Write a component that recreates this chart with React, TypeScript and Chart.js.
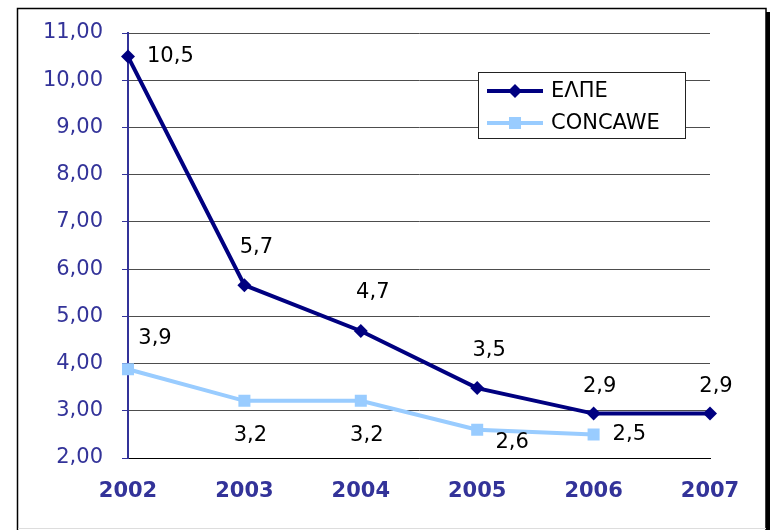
import React, { useEffect, useRef } from 'react';
import { Chart, registerables } from 'chart.js';

Chart.register(...registerables);

const categories = ['2002', '2003', '2004', '2005', '2006', '2007'];
const elpeValues = [10.5, 5.66, 4.69, 3.48, 2.94, 2.94];
const concaweValues: (number | null)[] = [3.88, 3.21, 3.21, 2.6, 2.5, null];
const seriesNames = ['ΕΛΠΕ', 'CONCAWE'];
const yMin = 2;
const yMax = 11;
const yStep = 1;

// label placement keywords (per point)
const elpeLabelPlace = ['right', 'above', 'above', 'above', 'aboveSmall', 'aboveSmall'];
const concaweLabelPlace = ['aboveRight', 'below', 'below', 'belowRight', 'right', 'none'];

const FONT = '"DejaVu Sans", Verdana, sans-serif';
const AXIS_COLOR = '#333399';

const fmt = (v: number, d: number) => v.toFixed(d).replace('.', ',');

const framePlugin = {
  id: 'frame',
  beforeDraw(chart: any) {
    const ctx = chart.ctx;
    ctx.save();
    ctx.fillStyle = '#ffffff';
    ctx.fillRect(0, 0, chart.width, chart.height);
    ctx.strokeStyle = '#000000';
    ctx.lineWidth = 1.5;
    ctx.strokeRect(17.5, 8.5, 748.5, 530);
    ctx.fillStyle = '#000000';
    ctx.fillRect(766, 12, 4, 520);
    ctx.strokeStyle = '#dddddd';
    ctx.lineWidth = 1;
    ctx.beginPath();
    ctx.moveTo(18, 528.5);
    ctx.lineTo(766, 528.5);
    ctx.stroke();
    ctx.restore();
  },
};

const labelsPlugin = {
  id: 'pointLabels',
  afterDatasetsDraw(chart: any) {
    const ctx = chart.ctx;
    const places = [elpeLabelPlace, concaweLabelPlace];
    ctx.save();
    ctx.font = `21px ${FONT}`;
    ctx.fillStyle = '#000000';
    ctx.textBaseline = 'middle';
    chart.data.datasets.forEach((ds: any, di: number) => {
      const meta = chart.getDatasetMeta(di);
      meta.data.forEach((pt: any, i: number) => {
        const v = ds.data[i];
        if (v == null) return;
        const place = places[di][i];
        if (place === 'none') return;
        const txt = fmt(v, 1);
        let x = pt.x;
        let y = pt.y;
        let align: CanvasTextAlign = 'center';
        if (place === 'right') { x += 19; align = 'left'; }
        else if (place === 'above') { x += 12; y -= 38; }
        else if (place === 'aboveSmall') { x += 6; y -= 27; }
        else if (place === 'aboveRight') { x += 27; y -= 31; }
        else if (place === 'below') { x += 6; y += 35; }
        else if (place === 'belowRight') { x += 35; y += 13; }
        ctx.textAlign = align;
        ctx.fillText(txt, x, y);
      });
    });
    ctx.restore();
  },
};

const legendPlugin = {
  id: 'customLegend',
  afterDraw(chart: any) {
    const ctx = chart.ctx;
    ctx.save();
    const bx = 478.5, by = 72.5, bw = 207, bh = 66;
    ctx.fillStyle = '#ffffff';
    ctx.fillRect(bx, by, bw, bh);
    ctx.strokeStyle = '#222222';
    ctx.lineWidth = 1;
    ctx.strokeRect(bx, by, bw, bh);
    chart.data.datasets.forEach((ds: any, i: number) => {
      const y = 91 + i * 32;
      ctx.strokeStyle = ds.borderColor;
      ctx.lineWidth = ds.borderWidth;
      ctx.beginPath();
      ctx.moveTo(487, y);
      ctx.lineTo(543, y);
      ctx.stroke();
      ctx.fillStyle = ds.pointBackgroundColor;
      const cx = 515;
      if (ds.pointStyle === 'rectRot') {
        const r = ds.pointRadius;
        ctx.beginPath();
        ctx.moveTo(cx, y - r);
        ctx.lineTo(cx + r, y);
        ctx.lineTo(cx, y + r);
        ctx.lineTo(cx - r, y);
        ctx.closePath();
        ctx.fill();
      } else {
        const s = ds.pointRadius * Math.SQRT1_2;
        ctx.fillRect(cx - s, y - s, 2 * s, 2 * s);
      }
      ctx.fillStyle = '#000000';
      ctx.font = `21px ${FONT}`;
      ctx.textAlign = 'left';
      ctx.textBaseline = 'middle';
      ctx.fillText(ds.label, 551, y + 1);
    });
    ctx.restore();
  },
};

export default function App() {
  const ref = useRef<HTMLCanvasElement | null>(null);

  useEffect(() => {
    if (!ref.current) return;
    const chart = new Chart(ref.current, {
      type: 'line',
      data: {
        labels: categories,
        datasets: [
          {
            label: seriesNames[0],
            data: elpeValues,
            borderColor: '#000080',
            backgroundColor: '#000080',
            pointBackgroundColor: '#000080',
            pointBorderColor: '#000080',
            borderWidth: 4,
            pointStyle: 'rectRot',
            pointRadius: 7,
            pointBorderWidth: 0,
            tension: 0,
          },
          {
            label: seriesNames[1],
            data: concaweValues,
            borderColor: '#99CCFF',
            backgroundColor: '#99CCFF',
            pointBackgroundColor: '#99CCFF',
            pointBorderColor: '#99CCFF',
            borderWidth: 4,
            pointStyle: 'rect',
            pointRadius: 8.5,
            pointBorderWidth: 0,
            tension: 0,
          },
        ] as any,
      },
      options: {
        responsive: false,
        animation: false,
        layout: { padding: { left: 0, right: 60, top: 33, bottom: 0 } },
        plugins: {
          legend: { display: false },
          tooltip: { enabled: false },
        },
        scales: {
          x: {
            type: 'category',
            offset: false,
            afterFit: (s: any) => { s.height = 72; },
            grid: { display: false, drawTicks: false },
            border: { display: true, color: '#000000', width: 1 },
            ticks: {
              autoSkip: false,
              maxRotation: 0,
              padding: 21,
              color: AXIS_COLOR,
              font: { family: FONT, size: 21, weight: 'bold' },
            },
          },
          y: {
            min: yMin,
            max: yMax,
            afterFit: (s: any) => { s.width = 128; },
            grid: {
              color: '#4d4d4d',
              lineWidth: 1,
              tickColor: AXIS_COLOR,
              tickLength: 6,
            },
            border: { display: true, color: AXIS_COLOR, width: 2 },
            ticks: {
              stepSize: yStep,
              padding: 19,
              color: AXIS_COLOR,
              font: { family: FONT, size: 21 },
              callback: (v: any) => fmt(Number(v), 2),
            },
          },
        },
      } as any,
      plugins: [framePlugin, labelsPlugin, legendPlugin],
    });
    return () => chart.destroy();
  }, []);

  return (
    <div style={{ position: 'absolute', left: 0, top: 0, width: 770, height: 530 }}>
      <canvas ref={ref} width={770} height={530} style={{ width: 770, height: 530, display: 'block' }} />
    </div>
  );
}
